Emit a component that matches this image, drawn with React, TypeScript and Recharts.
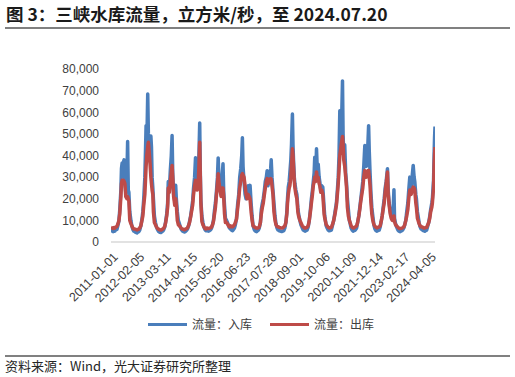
import React from 'react';
import { LineChart, Line, XAxis, YAxis } from 'recharts';

const dates: string[] = [
  '2011-01-01','2011-01-15','2011-02-01','2011-02-15','2011-03-01','2011-03-15','2011-04-01','2011-04-15','2011-05-01','2011-05-15','2011-06-01','2011-06-10','2011-06-20','2011-07-01','2011-07-10','2011-07-20','2011-08-01','2011-08-15','2011-09-01','2011-09-12','2011-09-22','2011-10-01','2011-10-15','2011-11-01','2011-11-15','2011-12-01','2011-12-15',
  '2012-01-01','2012-01-15','2012-02-01','2012-02-15','2012-03-01','2012-03-15','2012-04-01','2012-04-15','2012-05-01','2012-05-15','2012-06-01','2012-06-10','2012-06-20','2012-07-01','2012-07-15','2012-07-25','2012-08-05','2012-08-20','2012-09-01','2012-09-10','2012-09-20','2012-10-01','2012-10-10','2012-10-25','2012-11-10','2012-11-25','2012-12-10','2012-12-25',
  '2013-01-01','2013-01-15','2013-02-01','2013-02-15','2013-03-01','2013-03-15','2013-04-01','2013-04-15','2013-05-01','2013-05-15','2013-05-25','2013-06-10','2013-06-25','2013-07-10','2013-07-22','2013-08-01','2013-08-15','2013-09-01','2013-09-15','2013-09-25','2013-10-10','2013-10-25','2013-11-10','2013-11-25','2013-12-10','2013-12-25',
  '2014-01-01','2014-01-15','2014-02-01','2014-02-15','2014-03-01','2014-03-15','2014-04-01','2014-04-15','2014-05-01','2014-05-15','2014-06-01','2014-06-15','2014-07-01','2014-07-15','2014-07-25','2014-08-10','2014-08-25','2014-09-05','2014-09-17','2014-09-25','2014-10-05','2014-10-20','2014-11-05','2014-11-20','2014-12-05','2014-12-20',
  '2015-01-01','2015-01-15','2015-02-01','2015-02-15','2015-03-01','2015-03-15','2015-04-01','2015-04-15','2015-05-01','2015-05-15','2015-06-01','2015-06-15','2015-06-26','2015-07-10','2015-07-25','2015-08-10','2015-08-25','2015-09-08','2015-09-18','2015-10-01','2015-10-15','2015-11-01','2015-11-15','2015-12-01','2015-12-15',
  '2016-01-01','2016-01-15','2016-02-01','2016-02-15','2016-03-01','2016-03-15','2016-04-01','2016-04-20','2016-05-05','2016-05-20','2016-06-05','2016-06-20','2016-06-30','2016-07-10','2016-07-25','2016-08-10','2016-08-25','2016-09-10','2016-09-25','2016-10-10','2016-10-25','2016-11-10','2016-11-25','2016-12-10','2016-12-25',
  '2017-01-01','2017-01-15','2017-02-01','2017-02-15','2017-03-01','2017-03-15','2017-04-01','2017-04-15','2017-05-01','2017-05-15','2017-06-01','2017-06-15','2017-07-01','2017-07-13','2017-07-25','2017-08-10','2017-08-25','2017-09-05','2017-09-13','2017-09-25','2017-10-10','2017-10-25','2017-11-10','2017-11-25','2017-12-10','2017-12-25',
  '2018-01-01','2018-01-15','2018-02-01','2018-02-20','2018-03-10','2018-03-25','2018-04-10','2018-04-25','2018-05-10','2018-05-20','2018-06-01','2018-06-15','2018-06-25','2018-07-10','2018-07-20','2018-08-03','2018-08-12','2018-08-20','2018-09-01','2018-09-10','2018-09-25','2018-10-10','2018-10-25','2018-11-05','2018-11-25','2018-12-10','2018-12-25',
  '2019-01-01','2019-01-15','2019-02-01','2019-02-15','2019-03-01','2019-03-15','2019-04-01','2019-04-18','2019-05-05','2019-05-20','2019-06-05','2019-06-18','2019-07-01','2019-07-10','2019-07-25','2019-08-06','2019-08-15','2019-09-01','2019-09-15','2019-09-25','2019-10-10','2019-10-25','2019-11-10','2019-11-30','2019-12-10','2019-12-25',
  '2020-01-01','2020-01-15','2020-02-01','2020-02-15','2020-03-01','2020-03-20','2020-04-05','2020-04-25','2020-05-15','2020-06-05','2020-06-20','2020-07-03','2020-07-15','2020-07-27','2020-08-05','2020-08-18','2020-08-28','2020-09-06','2020-09-15','2020-09-25','2020-10-10','2020-10-25','2020-11-07','2020-11-20','2020-12-05','2020-12-20',
  '2021-01-01','2021-01-15','2021-02-01','2021-02-15','2021-03-01','2021-03-20','2021-04-10','2021-04-25','2021-05-13','2021-05-28','2021-06-13','2021-06-28','2021-07-13','2021-07-28','2021-08-13','2021-08-25','2021-09-06','2021-09-20','2021-09-28','2021-10-10','2021-10-20','2021-11-01','2021-11-15','2021-11-28','2021-12-13','2021-12-25',
  '2022-01-01','2022-01-15','2022-02-01','2022-02-15','2022-03-01','2022-03-20','2022-04-05','2022-04-20','2022-05-05','2022-05-20','2022-06-05','2022-06-20','2022-07-05','2022-07-25','2022-08-05','2022-08-20','2022-09-05','2022-09-20','2022-10-05','2022-10-20','2022-11-01','2022-11-10','2022-11-25','2022-12-10','2022-12-25',
  '2023-01-01','2023-01-15','2023-02-01','2023-02-15','2023-03-01','2023-03-15','2023-04-01','2023-04-15','2023-05-01','2023-05-15','2023-06-01','2023-06-15','2023-07-01','2023-07-12','2023-07-22','2023-08-05','2023-08-22','2023-09-05','2023-09-15','2023-10-01','2023-10-10','2023-10-25','2023-11-05','2023-11-20','2023-12-05','2023-12-20',
  '2024-01-01','2024-01-15','2024-02-01','2024-02-15','2024-03-01','2024-03-15','2024-04-01','2024-04-15','2024-05-01','2024-05-15','2024-06-01','2024-06-10','2024-06-20','2024-06-28','2024-07-06','2024-07-13','2024-07-20',
];

const inflow: number[] = [
  6500,5200,4800,5600,5000,6200,5800,7500,9500,15000,24000,34000,36500,31000,37000,38000,28000,23000,30000,46500,24000,23000,14000,10000,7500,5800,5000,
  4800,4400,4200,4600,4800,5500,7500,10000,14000,20000,30000,41000,53800,45000,68400,50000,45000,38000,49000,44000,30000,25000,20000,12000,9000,7000,5800,5000,
  4800,4500,4400,4700,5000,5600,7000,9500,13000,18000,28000,24000,33000,40000,49200,32000,22000,19000,26200,20000,14000,10000,8500,7000,5800,5200,
  5000,4800,4600,5000,5400,6000,7500,9500,12000,15000,19000,25000,30000,39000,32000,26000,30000,40000,55000,34000,19300,12000,9000,7000,5800,5200,
  5600,5200,5000,5300,5600,6200,8000,10000,14700,18000,24000,30000,38900,28000,25000,22000,30000,36200,24000,17000,11000,10000,9000,7500,6500,
  6000,5500,5200,5800,6500,8000,11000,18000,22000,30000,34000,40000,48200,35000,28000,22000,20000,22000,26000,24000,26200,18000,12000,7500,6000,
  5500,5000,4800,5200,5500,6500,9000,15000,18000,20000,24000,28000,30000,33000,26000,28000,30000,34000,38000,30000,24000,18000,12000,8500,6500,5500,
  5500,5200,5000,4800,5000,5200,6500,9000,14000,20000,25400,28000,32000,38000,45000,59200,45000,38000,30000,27000,24000,22000,16000,13000,10000,8000,7000,
  6500,5500,5200,5000,5300,5500,7000,10000,15000,20000,24000,28000,32000,39200,30000,43100,36000,36000,30000,28000,24000,26000,25400,16000,12000,9000,
  7500,6500,5500,5200,5300,5500,7500,10000,14000,18000,24000,30000,40000,60700,48000,55000,62000,74500,50000,40000,45000,32000,27100,20000,15000,10000,
  8500,6500,5500,5000,5200,5500,6500,9000,12000,16000,20000,24000,28000,35000,44600,38000,35000,40000,44600,53800,42000,32000,22500,16000,12000,9000,
  7500,6000,5200,5000,5300,5500,7000,9500,12000,16000,20000,25000,28000,33900,24000,18000,14000,12000,11000,15000,24200,11000,8500,7000,6000,
  5500,5000,4800,5000,5200,5600,6500,8000,10000,14000,18000,24000,30000,28000,25000,30000,35400,30000,28000,22000,20000,14000,12000,9000,7000,6000,
  5800,5400,5200,5000,5300,5500,7500,9000,12000,15000,18000,20000,25000,28500,40000,48000,53400,
];

const outflow: number[] = [
  6800,6600,6300,6700,6400,6900,7200,8200,9800,13000,21000,27000,28500,28000,28500,28000,27000,21000,20000,21000,20000,19000,10000,8500,7500,6500,6000,
  6000,5800,5600,5800,6000,6500,7500,9500,12000,17000,22000,28000,35000,40000,44000,46100,42000,36000,30000,27000,24000,22000,14000,9000,8000,7000,6300,6000,
  5800,5600,5500,5700,6000,6300,7200,9000,12000,16000,25000,23000,28000,32000,35400,30000,21000,17000,20000,17000,10000,8000,7500,7000,6300,6000,
  6000,5800,5700,6000,6200,6500,7800,9000,11500,14000,17000,22000,26000,28500,28000,24000,27000,35000,46100,32000,18000,9500,8000,7000,6300,6000,
  6500,6300,6200,6400,6600,6800,8000,9500,13000,16000,22000,27000,31600,27000,24000,21000,25000,25000,21000,13000,9000,9000,8500,7500,7000,
  7500,7000,7000,7500,8000,9000,10500,16000,20000,25000,28000,31000,31600,31000,30000,26000,22000,20000,22000,21000,20000,14000,10000,7500,7000,
  7000,6600,6400,6500,6500,7000,9000,13000,16000,18000,22000,25000,28000,29300,27000,29000,29000,29300,29000,26000,22000,14000,10000,8000,7200,7000,
  7000,6800,6600,6500,6600,7000,7500,9000,13000,18000,22000,25000,26000,30000,35000,43100,40000,35000,28000,25000,22000,20000,14000,12000,10000,9000,8000,
  7500,7000,6500,6500,6600,6800,7500,10000,14000,18000,22000,26000,28000,30000,28000,32400,30000,30000,27000,26000,23000,24000,22000,13000,11000,9000,
  8000,7500,6800,6500,6600,6800,8000,10000,13000,17000,22000,27000,33000,40000,42000,45000,47000,48800,45000,38000,35000,30000,25000,16000,12000,10000,
  9000,7500,6800,6500,6600,7000,7500,9000,12000,15000,19000,22000,25000,30000,33000,31000,30000,32000,33000,33100,30000,26000,18000,13000,10000,8500,
  8000,7200,6800,6500,6800,7000,7500,9500,12000,15000,18000,23000,27000,32400,22000,17000,13000,11000,10000,10000,12000,9500,8000,7500,7000,
  6800,6400,6200,6300,6400,6600,7000,8000,10000,12000,15000,20000,24000,23000,22000,24000,25400,25000,24000,18000,16000,11000,10000,8500,7500,7000,
  7000,6800,6500,6500,6700,6800,8000,9000,11000,14000,16000,18000,22000,25000,35000,40000,43900,
];

const xTickLabels: string[] = [
  '2011-01-01','2012-02-05','2013-03-11','2014-04-15','2015-05-20','2016-06-23','2017-07-28',
  '2018-09-01','2019-10-06','2020-11-09','2021-12-14','2023-02-17','2024-04-05',
];
const yTicks: number[] = [0, 10000, 20000, 30000, 40000, 50000, 60000, 70000, 80000];

const SERIES_POINTS = 4890; // number of daily observations in the original series
const TICK_STEP = 400;
const START = Date.UTC(2011, 0, 1);
const END = Date.UTC(2024, 6, 20);

const toX = (d: string) => {
  const [y, m, dd] = d.split('-').map(Number);
  return ((Date.UTC(y, m - 1, dd) - START) / (END - START)) * SERIES_POINTS;
};

const rows = dates.map((d, i) => ({ x: toX(d), inflow: inflow[i], outflow: outflow[i] }));
const xTickPos = xTickLabels.map((_, i) => i * TICK_STEP);

const BLUE = '#4a7ebb';
const RED = '#be4b48';
const NUM_FONT = '"Liberation Sans", Arial, sans-serif';
const CJK_FONT = '"Noto Sans CJK SC", "Noto Sans", sans-serif';

const XTick = (props: any) => {
  const { x, y, payload } = props;
  const label = xTickLabels[Math.round(payload.value / TICK_STEP)] ?? '';
  return (
    <g transform={`translate(${x},${y})`}>
      <text x={0} y={0} dy={11} textAnchor="end" transform="rotate(-45)" fontSize={12.5} fill="#404040" fontFamily={NUM_FONT}>
        {label}
      </text>
    </g>
  );
};

export default function App() {
  return (
    <div style={{ position: 'absolute', left: 0, top: 0, width: 515, height: 377, background: '#ffffff', fontFamily: CJK_FONT, overflow: 'hidden' }}>
      <div style={{ position: 'absolute', left: 6, top: 4, fontSize: 17.5, fontWeight: 700, lineHeight: '20px', color: '#1a1a1a', whiteSpace: 'nowrap' }}>
        图 3：三峡水库流量，立方米/秒，至 2024.07.20
      </div>
      <div style={{ position: 'absolute', left: 5, top: 26.5, width: 505, height: 2, background: '#808080' }} />

      <div style={{ position: 'absolute', left: 0, top: 0 }}>
        <LineChart width={515} height={310} data={rows} margin={{ top: 69, right: 80, bottom: 8, left: 51 }}>
          <XAxis
            dataKey="x"
            type="number"
            domain={[0, SERIES_POINTS]}
            ticks={xTickPos}
            interval={0}
            tick={<XTick />}
            tickLine={false}
            height={60}
            axisLine={{ stroke: '#d9d9d9', strokeWidth: 1.5 }}
            allowDataOverflow
          />
          <YAxis
            domain={[0, 80000]}
            ticks={yTicks}
            interval={0}
            width={60}
            axisLine={false}
            tickLine={false}
            tickMargin={6}
            tickFormatter={(v: number) => v.toLocaleString('en-US')}
            tick={{ fontSize: 12, fill: '#404040', fontFamily: NUM_FONT }}
          />
          <Line type="linear" dataKey="inflow" stroke={BLUE} strokeWidth={3.5} dot={false} isAnimationActive={false} strokeLinejoin="round" />
          <Line type="linear" dataKey="outflow" stroke={RED} strokeWidth={3.5} dot={false} isAnimationActive={false} strokeLinejoin="round" />
        </LineChart>
      </div>

      <div style={{ position: 'absolute', left: 148, top: 322.5, width: 39, height: 3, background: BLUE }} />
      <div style={{ position: 'absolute', left: 192, top: 315, fontSize: 12, lineHeight: '18px', color: '#404040', whiteSpace: 'nowrap' }}>流量：入库</div>
      <div style={{ position: 'absolute', left: 270, top: 322.5, width: 39, height: 3, background: RED }} />
      <div style={{ position: 'absolute', left: 314, top: 315, fontSize: 12, lineHeight: '18px', color: '#404040', whiteSpace: 'nowrap' }}>流量：出库</div>

      <div style={{ position: 'absolute', left: 5, top: 354.5, width: 505, height: 2, background: '#808080' }} />
      <div style={{ position: 'absolute', left: 5, top: 357, fontSize: 13, lineHeight: '17px', color: '#262626', whiteSpace: 'nowrap' }}>
        资料来源：Wind，光大证券研究所整理
      </div>
    </div>
  );
}
